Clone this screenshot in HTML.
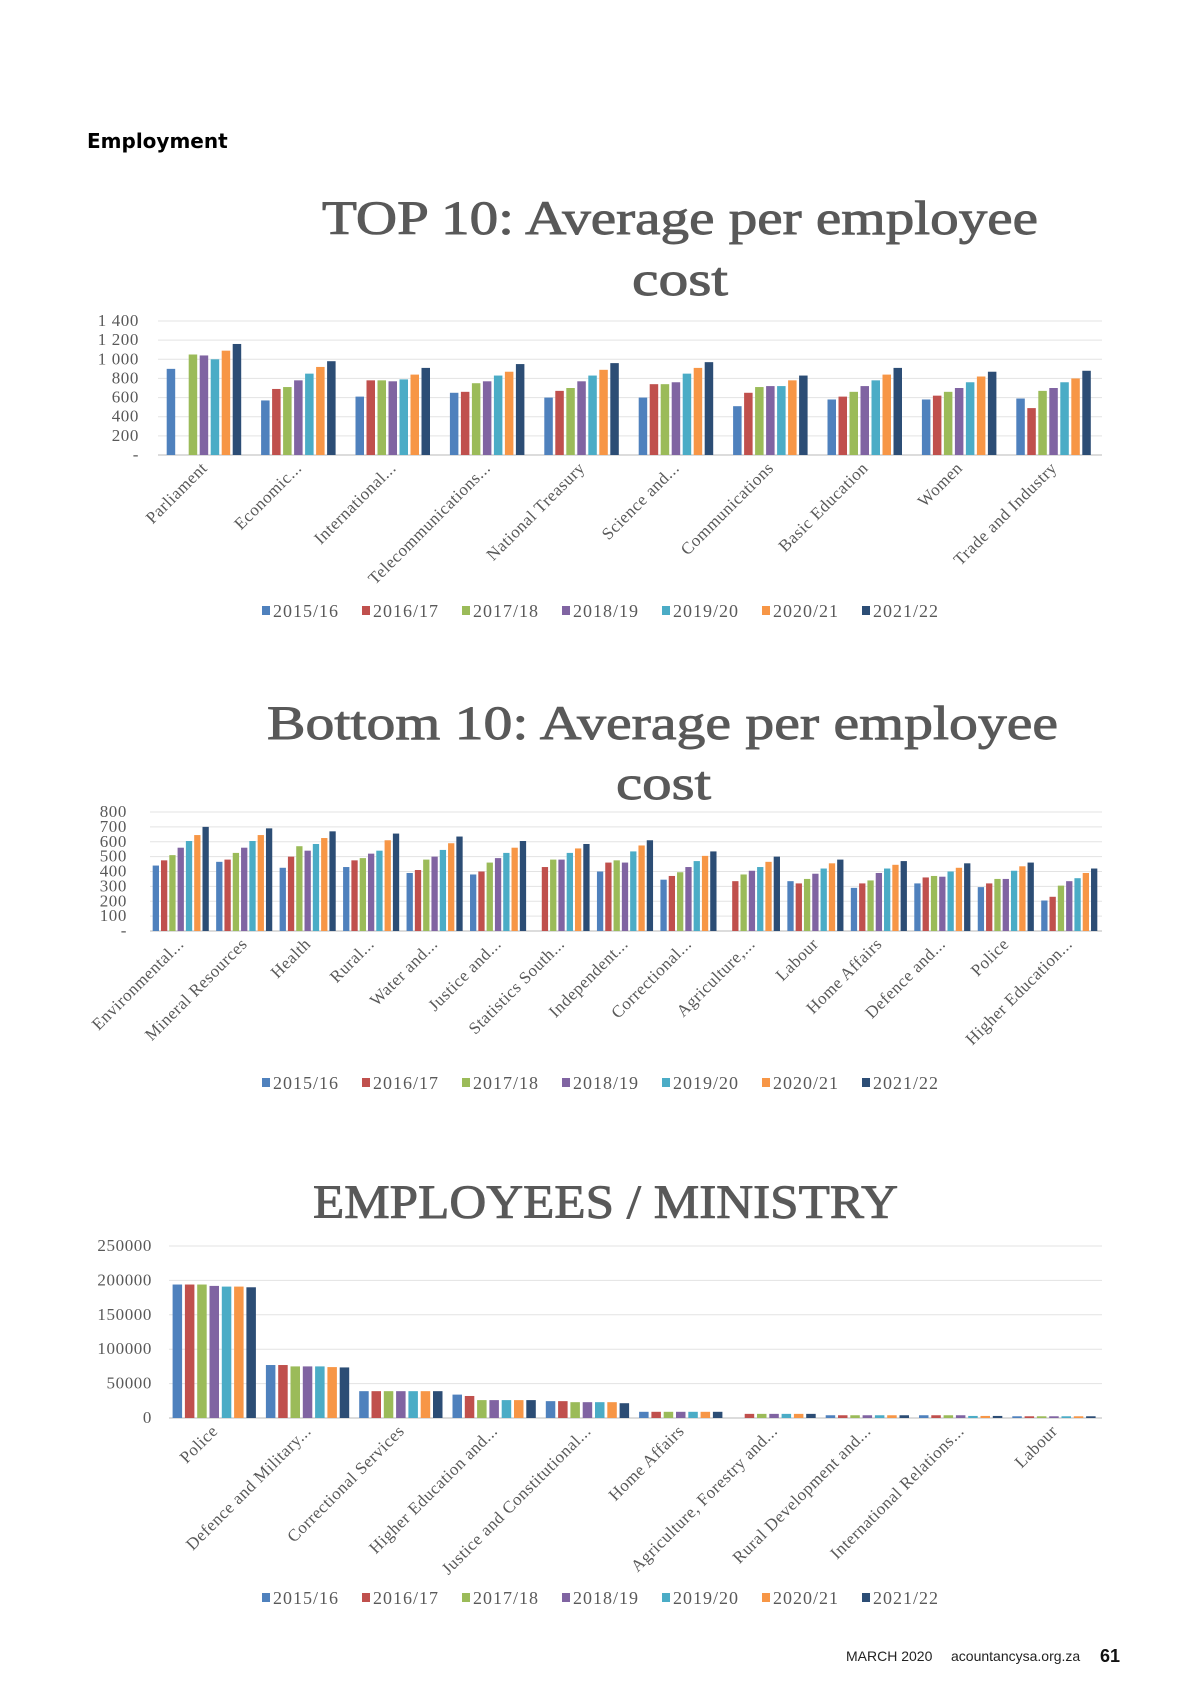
<!DOCTYPE html>
<html><head><meta charset="utf-8"><style>
html,body{margin:0;padding:0;background:#fff;}
svg{display:block;}
</style></head><body>
<svg id="page" width="1200" height="1696" xmlns="http://www.w3.org/2000/svg">
<text x="87" y="148" font-family="DejaVu Sans, sans-serif" font-weight="bold" font-size="20" fill="#000">Employment</text>
<text x="846" y="1661" font-family="Liberation Sans, sans-serif" font-size="14" fill="#222">MARCH 2020</text>
<text x="951" y="1661" font-family="Liberation Sans, sans-serif" font-size="14" fill="#222">acountancysa.org.za</text>
<text x="1100" y="1662" font-family="Liberation Sans, sans-serif" font-weight="bold" font-size="18" fill="#111">61</text>
</svg>
<script>
const seriesNames = ["2015/16","2016/17","2017/18","2018/19","2019/20","2020/21","2021/22"];
const colors = ["#4f81bd","#c0504d","#9bbb59","#8064a2","#4bacc6","#f79646","#2c4d75"];

const topCats = ["Parliament","Economic...","International...","Telecommunications...","National Treasury","Science and...","Communications","Basic Education","Women","Trade and Industry"];
const topS1 = [900,570,610,650,600,600,510,580,580,590];
const topS2 = [0,690,780,660,670,740,650,610,620,490];
const topS3 = [1050,710,780,750,700,740,710,660,660,670];
const topS4 = [1040,780,770,770,770,760,720,720,700,700];
const topS5 = [1000,850,790,830,830,850,720,780,760,760];
const topS6 = [1090,920,840,870,890,910,780,840,820,800];
const topS7 = [1160,980,910,950,960,970,830,910,870,880];
const topTicks = ["-","200","400","600","800","1 000","1 200","1 400"];

const botCats = ["Environmental...","Mineral Resources","Health","Rural...","Water and...","Justice and...","Statistics South...","Independent...","Correctional...","Agriculture,...","Labour","Home Affairs","Defence and...","Police","Higher Education..."];
const botS1 = [440,465,425,430,390,380,0,400,345,0,335,290,320,295,205];
const botS2 = [475,480,500,475,410,400,430,460,370,335,320,320,360,320,230];
const botS3 = [510,525,570,490,480,460,480,475,395,380,350,340,370,350,305];
const botS4 = [560,560,540,520,500,490,480,460,430,405,385,390,365,350,335];
const botS5 = [605,605,585,540,545,525,525,535,470,430,420,420,400,405,355];
const botS6 = [645,645,625,610,590,560,555,575,505,465,455,445,425,435,390];
const botS7 = [700,690,670,655,635,605,585,610,535,500,480,470,455,460,420];
const botTicks = ["-","100","200","300","400","500","600","700","800"];

const empCats = ["Police","Defence and Military...","Correctional Services","Higher Education and...","Justice and Constitutional...","Home Affairs","Agriculture, Forestry and...","Rural Development and...","International Relations...","Labour"];
const empS1 = [194000,77000,39000,34000,24500,9000,0,4000,4000,2500];
const empS2 = [194000,77000,39000,32000,24500,9000,6000,4000,4000,2500];
const empS3 = [194000,75000,39000,26000,23000,9000,6000,4000,4000,2500];
const empS4 = [192000,75000,39000,26000,23000,9000,6000,4000,4000,2500];
const empS5 = [191000,75000,39000,26000,23000,9000,6000,4000,3000,2500];
const empS6 = [191000,74000,39000,26000,23000,9000,6000,4000,3000,2500];
const empS7 = [190000,73500,39000,26000,21500,9000,6000,4000,3000,2500];
const empTicks = ["0","50000","100000","150000","200000","250000"];

const NS = "http://www.w3.org/2000/svg";
const svg = document.getElementById("page");
function mk(tag, attrs, parent){const e=document.createElementNS(NS,tag);for(const k in attrs)e.setAttribute(k,attrs[k]);(parent||svg).appendChild(e);return e;}

function chart(cfg){
  const g = mk("g",{});
  
  
  cfg.titles.forEach((t,i)=>{
    const tx = mk("text",{x:t.x,y:t.y,"font-family":"Liberation Serif, serif","font-size":cfg.titleSize,fill:"#595959",stroke:"#595959","stroke-width":0.9,textLength:t.w,lengthAdjust:"spacingAndGlyphs"},g);
    
    
    tx.textContent = t.text;
  });
  const n = cfg.ticks.length-1;
  const yScale = v => cfg.y0 - v/cfg.max*(cfg.y0-cfg.yTop);
  cfg.ticks.forEach((lab,i)=>{
    const y = cfg.y0 - i*(cfg.y0-cfg.yTop)/n;
    const l = mk("line",{x1:cfg.x0,x2:cfg.x1,y1:y,y2:y,stroke:i===0?"#d0d0d0":"#e3e3e3","stroke-width":i===0?1.5:1},g);
    
    
    const t = mk("text",{x:cfg.labX,y:y+5,"text-anchor":"end","font-family":"Liberation Serif, serif","font-size":cfg.tickSize,"letter-spacing":0.6,fill:"#595959"},g);
    
    
    t.textContent = lab;
  });
  const pitch = (cfg.x1-cfg.x0)/cfg.cats.length;
  cfg.cats.forEach((c,ci)=>{
    const gx = cfg.x0 + ci*pitch;
    const used = cfg.barPitch*7;
    const start = gx + (pitch-used)/2;
    cfg.series.forEach((s,si)=>{
      const v = s[ci]; if(!v) return;
      const y = yScale(v);
      const r = mk("rect",{x:start+si*cfg.barPitch,y:y,width:cfg.barW,height:cfg.y0-y,fill:colors[si]},g);
      
      
    });
    const cx = gx + pitch/2 + 3, cy = cfg.y0 + 14;
    const t = mk("text",{x:cx,y:cy,"text-anchor":"end",transform:`rotate(-45 ${cx} ${cy})`,"font-family":"Liberation Serif, serif","font-size":cfg.catSize,"letter-spacing":0.5,fill:"#595959"},g);
    
    
    t.textContent = c;
  });
  seriesNames.forEach((nm,i)=>{
    const x = 262 + i*100;
    const r = mk("rect",{x:x,y:cfg.legY-5,width:8,height:9,fill:colors[i]},g);
    
    
    const t = mk("text",{x:x+11,y:cfg.legY+6,"font-family":"Liberation Serif, serif","font-size":18,"letter-spacing":1,fill:"#595959"},g);
    
    
    t.textContent = nm;
  });
}

chart({name:"top10-cost-chart",cats:topCats,series:[topS1,topS2,topS3,topS4,topS5,topS6,topS7],ticks:topTicks,max:1400,
  x0:158,x1:1102,y0:455,yTop:321,labX:139,barPitch:11,barW:8.5,tickSize:17,catSize:17,legY:611,titleSize:48,
  titles:[{text:"TOP 10: Average per employee",x:322,y:234,w:716},{text:"cost",x:632,y:295,w:96}]});
chart({name:"bottom10-cost-chart",cats:botCats,series:[botS1,botS2,botS3,botS4,botS5,botS6,botS7],ticks:botTicks,max:800,
  x0:150,x1:1102,y0:931,yTop:812,labX:127,barPitch:8.3,barW:6.3,tickSize:17,catSize:17,legY:1083,titleSize:48,
  titles:[{text:"Bottom 10: Average per employee",x:267,y:739,w:791},{text:"cost",x:616,y:799,w:95}]});
chart({name:"employees-ministry-chart",cats:empCats,series:[empS1,empS2,empS3,empS4,empS5,empS6,empS7],ticks:empTicks,max:250000,
  x0:169,x1:1102,y0:1418,yTop:1246,labX:152,barPitch:12.3,barW:9.5,tickSize:17,catSize:17,legY:1598,titleSize:48,
  titles:[{text:"EMPLOYEES / MINISTRY",x:313,y:1218,w:585}]});
</script>
</body></html>
